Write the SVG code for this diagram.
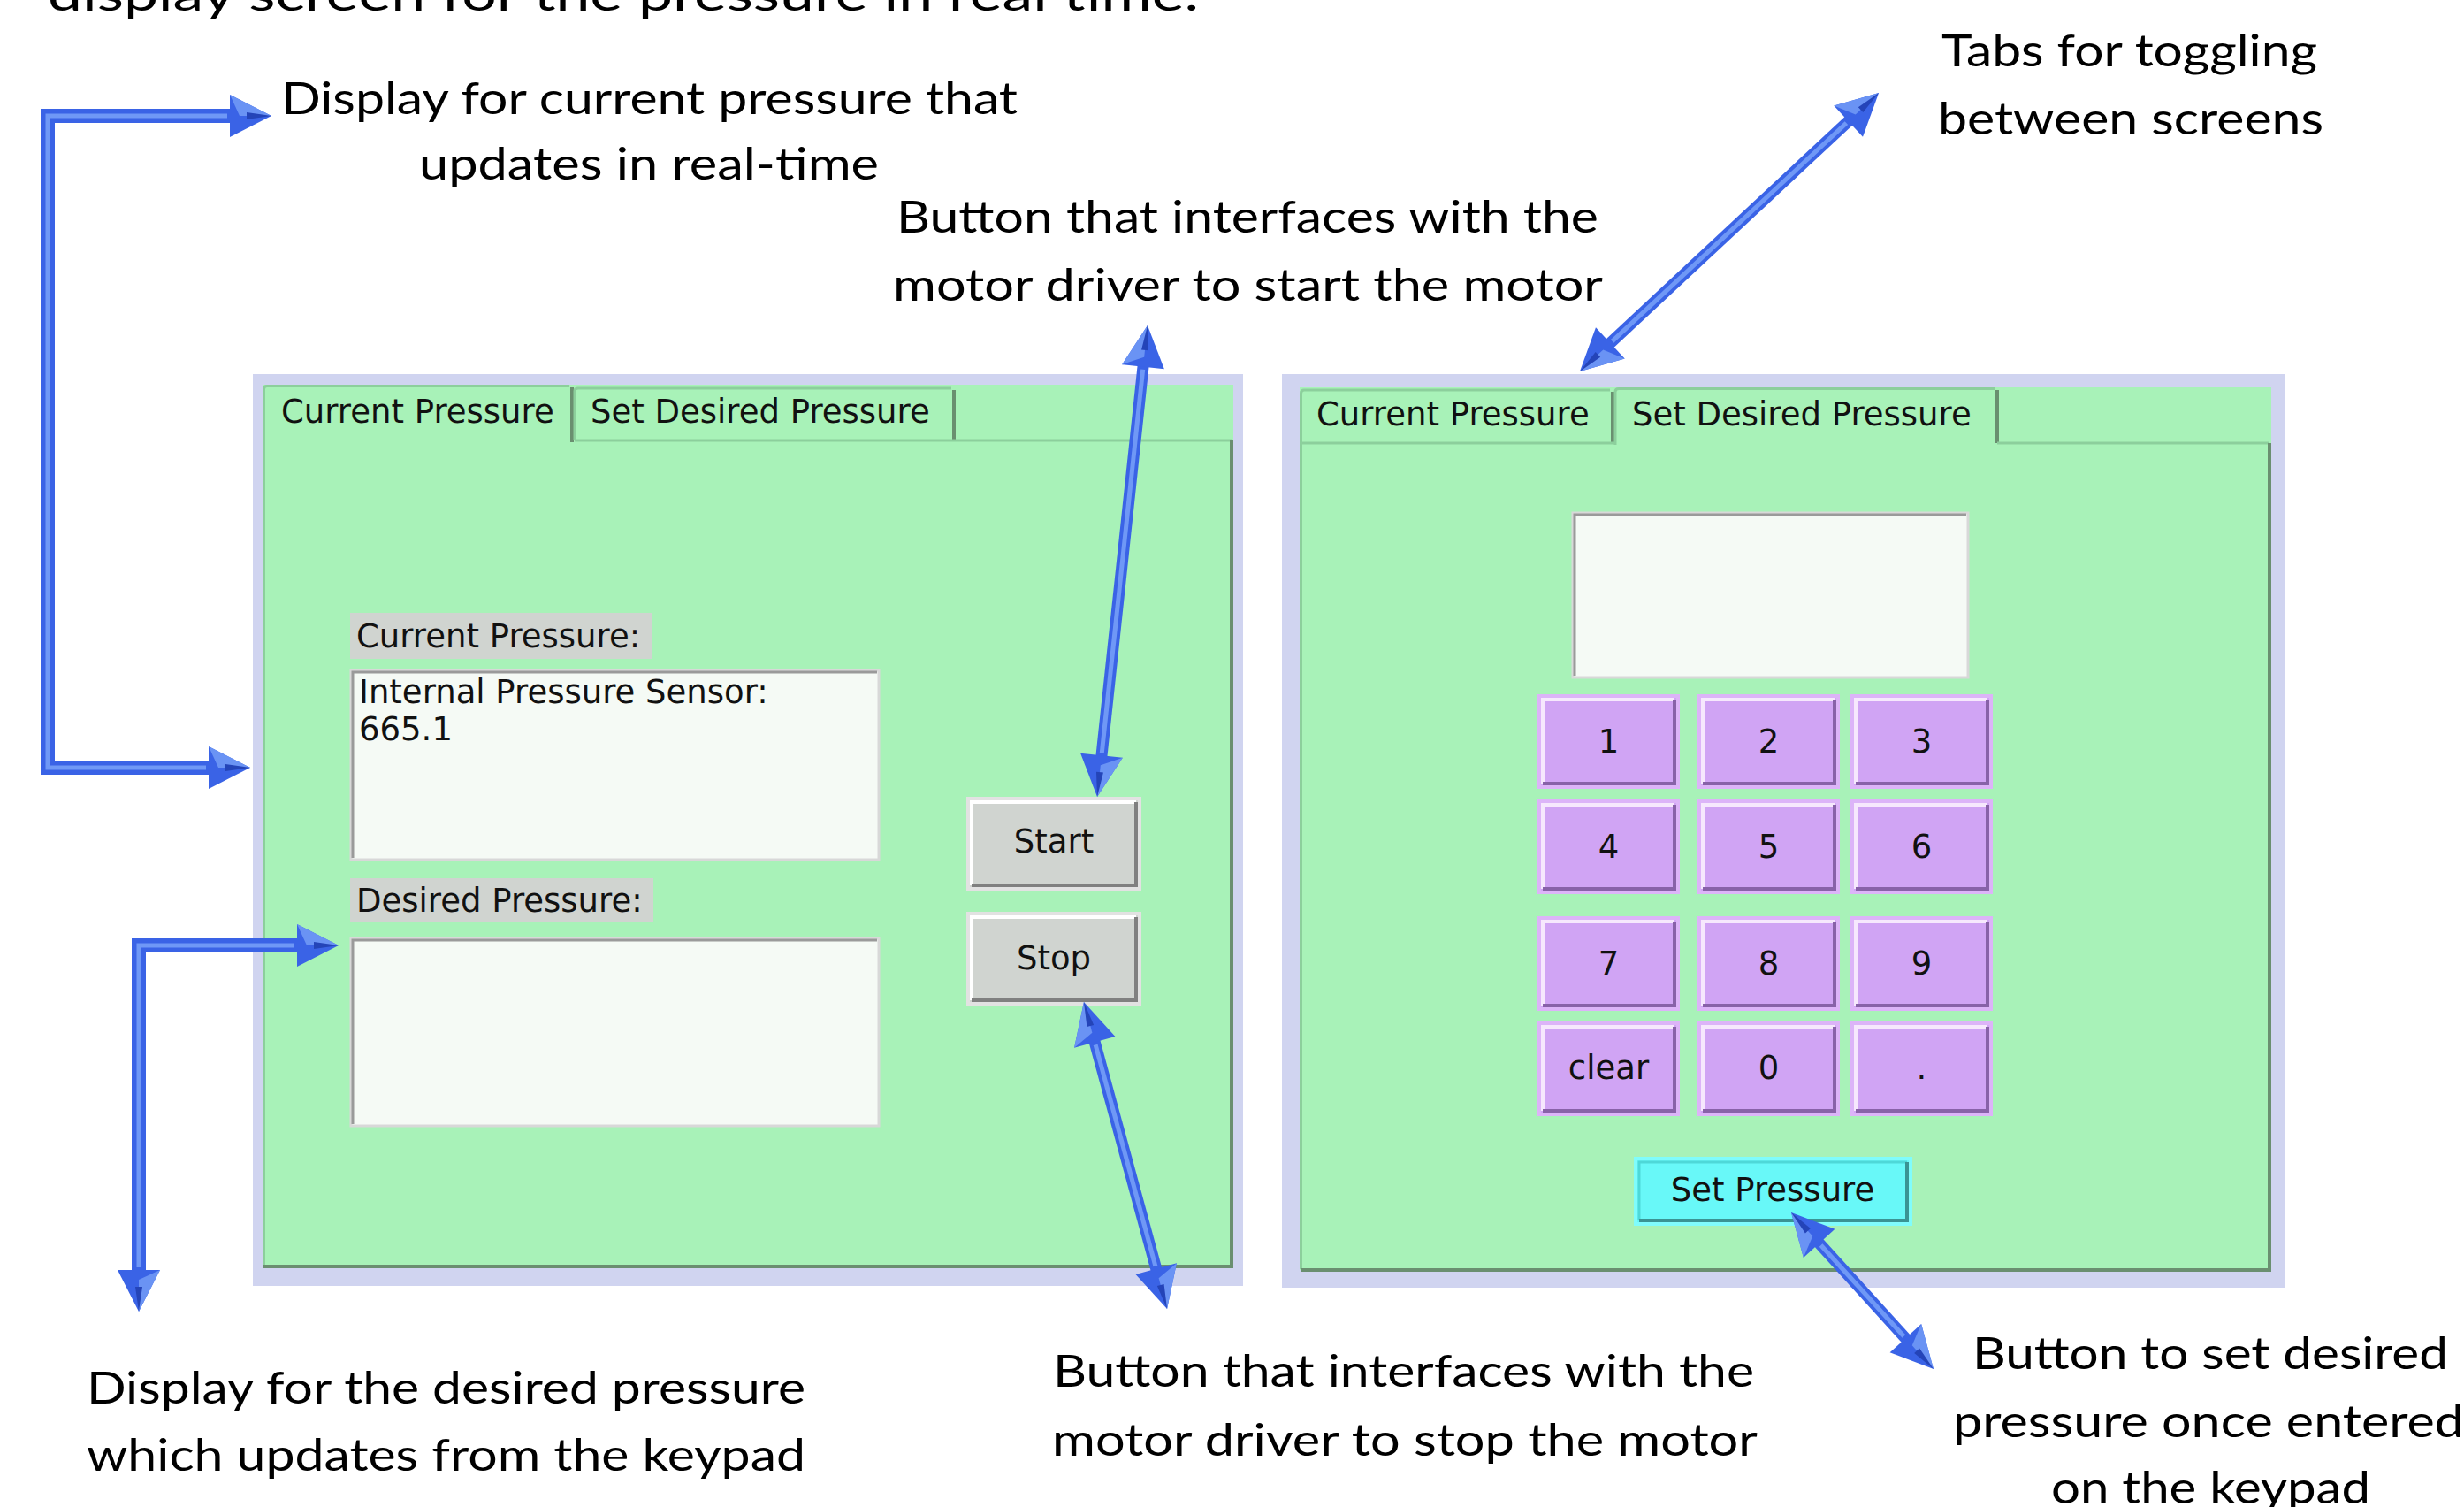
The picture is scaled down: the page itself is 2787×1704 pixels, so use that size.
<svg xmlns="http://www.w3.org/2000/svg" width="2787" height="1704" viewBox="0 0 2787 1704">
<style>
.ann{font-family:Lato,"Open Sans","Liberation Sans",sans-serif;font-size:50px;fill:#000}
.ui{font-family:"DejaVu Sans",Verdana,sans-serif;font-size:37px;fill:#111}
.c{text-anchor:middle}
.lav{fill:#d0d4f0}
.grn{fill:#a8f2b8}
.lt{stroke:#8ccf9c;stroke-width:3;fill:none}
.dk{stroke:#6a8f70;stroke-width:4;fill:none}
.lbl{fill:#d0d4d0}
.tb{fill:#f5faf5;stroke:#d8d8d8;stroke-width:3}
.tbs{stroke:#9a9a9a;stroke-width:3;fill:none}
.gb{fill:#d0d4d0;stroke:#e2e2e2;stroke-width:4}
.gh{stroke:#ffffff;stroke-width:4;fill:none}
.gs{stroke:#808080;stroke-width:4;fill:none}
.kb{fill:#d0a4f4;stroke:#dcb4f8;stroke-width:4}
.kh{stroke:#f6e8fd;stroke-width:4;fill:none}
.ks{stroke:#8862a8;stroke-width:4;fill:none}
.sb{fill:#68f8f8;stroke:#80fcfc;stroke-width:4}
.sh{stroke:#4ed8d8;stroke-width:3;fill:none}
.ss{stroke:#3a9494;stroke-width:4;fill:none}
.shaft{fill:none;stroke:#3a63e6;stroke-linejoin:miter;marker-start:url(#ah);marker-end:url(#ah)}
.hl{fill:none;stroke:#6f98f6;stroke-width:5;stroke-linejoin:miter}
</style>
<defs>
<marker id="ah" markerUnits="userSpaceOnUse" markerWidth="60" markerHeight="56" refX="20" refY="28" orient="auto-start-reverse" overflow="visible">
<path d="M3,4 L50,28 L3,52 Z" fill="#3a63e6"/>
<path d="M3,4 L50,28 L14,28 Z" fill="#6a93f4"/>
<path d="M22,24 L50,28 L22,32 Z" fill="#2444b8"/>
</marker>
</defs>
<rect width="2787" height="1704" fill="#ffffff"/>

<g id="annotations">
<text class="ann" x="54" y="12" textLength="1302" lengthAdjust="spacingAndGlyphs">display screen for the pressure in real time.</text>
<text class="ann" x="318" y="129" textLength="833" lengthAdjust="spacingAndGlyphs">Display for current pressure that</text>
<text class="ann" x="474" y="203" textLength="520" lengthAdjust="spacingAndGlyphs">updates in real-time</text>
<text class="ann" x="1014" y="263" textLength="794" lengthAdjust="spacingAndGlyphs">Button that interfaces with the</text>
<text class="ann" x="1010" y="340" textLength="803" lengthAdjust="spacingAndGlyphs">motor driver to start the motor</text>
<text class="ann" x="2196" y="75" textLength="425" lengthAdjust="spacingAndGlyphs">Tabs for toggling</text>
<text class="ann" x="2192" y="152" textLength="436" lengthAdjust="spacingAndGlyphs">between screens</text>
<text class="ann" x="98" y="1587" textLength="813" lengthAdjust="spacingAndGlyphs">Display for the desired pressure</text>
<text class="ann" x="98" y="1663" textLength="813" lengthAdjust="spacingAndGlyphs">which updates from the keypad</text>
<text class="ann" x="1191" y="1568" textLength="793" lengthAdjust="spacingAndGlyphs">Button that interfaces with the</text>
<text class="ann" x="1190" y="1646" textLength="798" lengthAdjust="spacingAndGlyphs">motor driver to stop the motor</text>
<text class="ann" x="2231" y="1548" textLength="538" lengthAdjust="spacingAndGlyphs">Button to set desired</text>
<text class="ann" x="2209" y="1625" textLength="578" lengthAdjust="spacingAndGlyphs">pressure once entered</text>
<text class="ann" x="2320" y="1700" textLength="361" lengthAdjust="spacingAndGlyphs">on the keypad</text>
</g>

<g id="left-panel">
<rect class="lav" x="286" y="423" width="1120" height="1031"/>
<rect class="grn" x="297" y="435" width="1098" height="997"/>
<g id="left-tab-current">
<path class="lt" d="M298.5,500 V440 Q298.5,436.5 302,436.5 H644"/>
<path class="dk" d="M647,438 V500" stroke-width="3"/>
<text class="ui" x="318" y="478">Current Pressure</text>
</g>
<g id="left-tab-set">
<path class="lt" d="M650,498 V442 Q650,439 654,439 H1076"/>
<path class="dk" d="M1079,441 V498" stroke-width="3"/>
<path class="lt" d="M650,498 H1393"/>
<text class="ui" x="668" y="478">Set Desired Pressure</text>
</g>
<path class="lt" d="M298.5,500 V1431"/>
<path class="dk" d="M1393,498 V1432 H298"/>
<g id="label-current">
<rect class="lbl" x="396" y="693" width="341" height="52"/>
<text class="ui" x="403" y="732">Current Pressure:</text>
</g>
<g id="box-current">
<rect class="tb" x="397" y="758" width="597" height="214"/>
<path class="tbs" d="M399,970 V760 H992"/>
<text class="ui" x="406" y="795">Internal Pressure Sensor:</text>
<text class="ui" x="406" y="837">665.1</text>
</g>
<g id="label-desired">
<rect class="lbl" x="396" y="993" width="343" height="50"/>
<text class="ui" x="403" y="1031">Desired Pressure:</text>
</g>
<g id="box-desired">
<rect class="tb" x="397" y="1061" width="597" height="212"/>
<path class="tbs" d="M399,1271 V1063 H992"/>
</g>
<g id="btn-start">
<rect class="gb" x="1095" y="903" width="194" height="102"/>
<path class="gh" d="M1099,1001 V907 H1285"/>
<path class="gs" d="M1099,1001 H1285 V907"/>
<text class="ui c" x="1192" y="964">Start</text>
</g>
<g id="btn-stop">
<rect class="gb" x="1095" y="1033" width="194" height="102"/>
<path class="gh" d="M1099,1131 V1037 H1285"/>
<path class="gs" d="M1099,1131 H1285 V1037"/>
<text class="ui c" x="1192" y="1096">Stop</text>
</g>
</g>

<g id="right-panel">
<rect class="lav" x="1450" y="423" width="1134" height="1033"/>
<rect class="grn" x="1470" y="438" width="1099" height="998"/>
<g id="right-tab-current">
<path class="lt" d="M1471.5,501 V445 Q1471.5,441 1475,441 H1821"/>
<path class="dk" d="M1824,443 V501" stroke-width="3"/>
<path class="lt" d="M1471.5,501 H1826"/>
<text class="ui" x="1489" y="481">Current Pressure</text>
</g>
<g id="right-tab-set">
<path class="lt" d="M1827,503 V443 Q1827,439.5 1831,439.5 H2256"/>
<path class="dk" d="M2259,441 V501" stroke-width="3"/>
<path class="lt" d="M2259,501 H2567"/>
<text class="ui" x="1846" y="481">Set Desired Pressure</text>
</g>
<path class="lt" d="M1471.5,501 V1435"/>
<path class="dk" d="M2567,501 V1436 H1471"/>
<g id="display-box">
<rect class="tb" x="1779" y="580" width="447" height="186"/>
<path class="tbs" d="M1781,764 V582 H2224"/>
</g>
<g id="keypad">
<g id="key-1"><rect class="kb" x="1741" y="787" width="157" height="103"/><path class="kh" d="M1745,886 V791 H1894"/><path class="ks" d="M1745,886 H1894 V791"/><text class="ui c" x="1819.5" y="851">1</text></g>
<g id="key-2"><rect class="kb" x="1922" y="787" width="157" height="103"/><path class="kh" d="M1926,886 V791 H2075"/><path class="ks" d="M1926,886 H2075 V791"/><text class="ui c" x="2000.5" y="851">2</text></g>
<g id="key-3"><rect class="kb" x="2095" y="787" width="157" height="103"/><path class="kh" d="M2099,886 V791 H2248"/><path class="ks" d="M2099,886 H2248 V791"/><text class="ui c" x="2173.5" y="851">3</text></g>
<g id="key-4"><rect class="kb" x="1741" y="906" width="157" height="103"/><path class="kh" d="M1745,1005 V910 H1894"/><path class="ks" d="M1745,1005 H1894 V910"/><text class="ui c" x="1819.5" y="970">4</text></g>
<g id="key-5"><rect class="kb" x="1922" y="906" width="157" height="103"/><path class="kh" d="M1926,1005 V910 H2075"/><path class="ks" d="M1926,1005 H2075 V910"/><text class="ui c" x="2000.5" y="970">5</text></g>
<g id="key-6"><rect class="kb" x="2095" y="906" width="157" height="103"/><path class="kh" d="M2099,1005 V910 H2248"/><path class="ks" d="M2099,1005 H2248 V910"/><text class="ui c" x="2173.5" y="970">6</text></g>
<g id="key-7"><rect class="kb" x="1741" y="1038" width="157" height="103"/><path class="kh" d="M1745,1137 V1042 H1894"/><path class="ks" d="M1745,1137 H1894 V1042"/><text class="ui c" x="1819.5" y="1102">7</text></g>
<g id="key-8"><rect class="kb" x="1922" y="1038" width="157" height="103"/><path class="kh" d="M1926,1137 V1042 H2075"/><path class="ks" d="M1926,1137 H2075 V1042"/><text class="ui c" x="2000.5" y="1102">8</text></g>
<g id="key-9"><rect class="kb" x="2095" y="1038" width="157" height="103"/><path class="kh" d="M2099,1137 V1042 H2248"/><path class="ks" d="M2099,1137 H2248 V1042"/><text class="ui c" x="2173.5" y="1102">9</text></g>
<g id="key-clear"><rect class="kb" x="1741" y="1157" width="157" height="103"/><path class="kh" d="M1745,1256 V1161 H1894"/><path class="ks" d="M1745,1256 H1894 V1161"/><text class="ui c" x="1819.5" y="1220">clear</text></g>
<g id="key-0"><rect class="kb" x="1922" y="1157" width="157" height="103"/><path class="kh" d="M1926,1256 V1161 H2075"/><path class="ks" d="M1926,1256 H2075 V1161"/><text class="ui c" x="2000.5" y="1220">0</text></g>
<g id="key-dot"><rect class="kb" x="2095" y="1157" width="157" height="103"/><path class="kh" d="M2099,1256 V1161 H2248"/><path class="ks" d="M2099,1256 H2248 V1161"/><text class="ui c" x="2173.5" y="1220">.</text></g>
</g>
<g id="btn-set-pressure">
<rect class="sb" x="1850" y="1310" width="311" height="74"/>
<path class="sh" d="M1854,1380 V1314 H2157"/>
<path class="ss" d="M1854,1380 H2157 V1314"/>
<text class="ui c" x="2005" y="1358">Set Pressure</text>
</g>
</g>

<g id="connectors">
<path class="shaft" stroke-width="16" d="M277,131 L54,131 L54,868 L253,868"/>
<path class="hl" d="M257,131 L54,131 L54,868 L233,868"/>
<path class="shaft" stroke-width="16" d="M353,1069 L157,1069 L157,1453"/>
<path class="hl" d="M333,1069 L157,1069 L157,1433"/>
<path class="shaft" stroke-width="13" d="M1294.8,397.8 L1244.2,871.2"/>
<path class="hl" stroke-width="4" d="M1292.7,417.7 L1246.3,851.3"/>
<path class="shaft" stroke-width="13" d="M1233.8,1162 L1312.2,1451"/>
<path class="hl" stroke-width="4" d="M1239.1,1181.3 L1306.9,1431.7"/>
<path class="shaft" stroke-width="13" d="M2103.1,125.5 L1808.9,399.5"/>
<path class="hl" stroke-width="4" d="M2088.4,139.1 L1823.6,385.9"/>
<path class="shaft" stroke-width="13" d="M2046.2,1393.2 L2166.8,1525.8"/>
<path class="hl" stroke-width="4" d="M2059.6,1408 L2153.4,1511"/>
</g>
</svg>
